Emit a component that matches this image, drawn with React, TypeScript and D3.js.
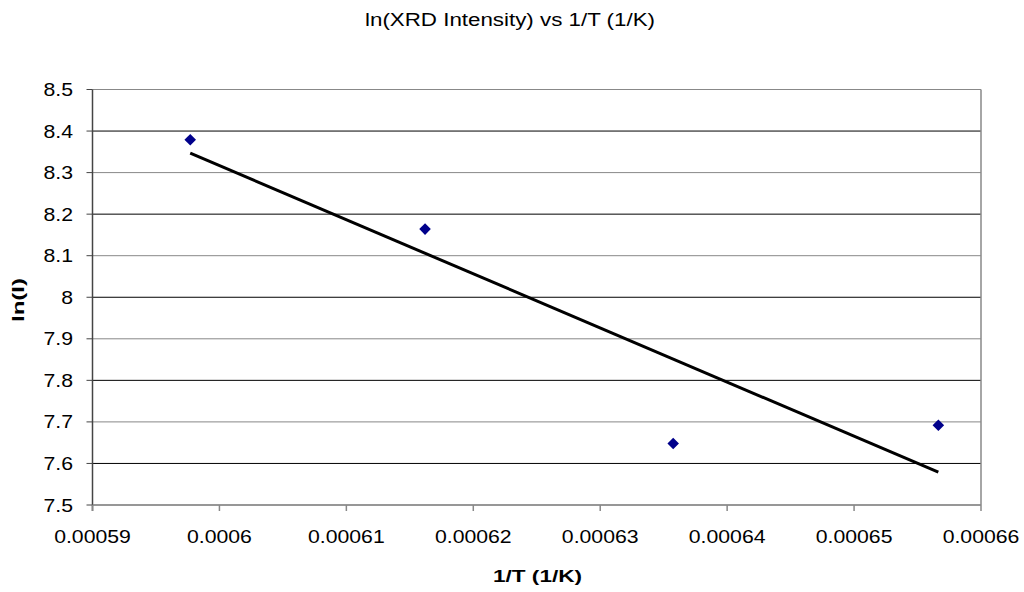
import React from "react";
import * as d3 from "d3";

const invT = [0.0005977, 0.0006162, 0.00063575, 0.00065664];
const lnI = [8.379, 8.164, 7.648, 7.692];
const xTicks = [0.00059, 0.0006, 0.00061, 0.00062, 0.00063, 0.00064, 0.00065, 0.00066];
const xTickLabels = ["0.00059", "0.0006", "0.00061", "0.00062", "0.00063", "0.00064", "0.00065", "0.00066"];
const yTicks = [7.5, 7.6, 7.7, 7.8, 7.9, 8, 8.1, 8.2, 8.3, 8.4, 8.5];
const yTickLabels = ["7.5", "7.6", "7.7", "7.8", "7.9", "8", "8.1", "8.2", "8.3", "8.4", "8.5"];

const W = 1024, H = 592;
const L = 92.5, R = 981, T = 89.5, B = 505;
const font = "'Liberation Sans', Arial, sans-serif";
const SX = 1.18;

export default function App() {
  const x = d3.scaleLinear().domain([0.00059, 0.00066]).range([L, R]);
  const y = d3.scaleLinear().domain([7.5, 8.5]).range([B, T]);

  const mx = d3.mean(invT)!;
  const my = d3.mean(lnI)!;
  let sxy = 0, sxx = 0;
  invT.forEach((v, i) => { sxy += (v - mx) * (lnI[i] - my); sxx += (v - mx) * (v - mx); });
  const slope = sxy / sxx;
  const icpt = my - slope * mx;
  const x0 = d3.min(invT)!, x1 = d3.max(invT)!;
  const line = d3.line<[number, number]>().x(d => x(d[0])).y(d => y(d[1]));
  const trend = line([[x0, icpt + slope * x0], [x1, icpt + slope * x1]]);

  const diamond = d3.symbol().type(d3.symbolDiamond2).size(85)();

  return (
    <svg width={W} height={H} style={{ position: "absolute", left: 0, top: 0, background: "#fff" }} fontFamily={font}>
      <rect x={0} y={0} width={W} height={H} fill="#fff" />
      <text x={365} y={26} fontSize={18} textLength={290} lengthAdjust="spacingAndGlyphs">ln(XRD Intensity) vs 1/T (1/K)</text>
      {yTicks.map((t, i) => (
        <line key={"g" + i} x1={L} x2={R} y1={y(t)} y2={y(t)} stroke={i % 2 === 0 ? "#888" : "#000"} strokeWidth={1} />
      ))}
      <line x1={R} x2={R} y1={T} y2={B} stroke="#888" strokeWidth={1.5} />
      <line x1={L} x2={L} y1={T} y2={B + 6} stroke="#444" strokeWidth={1.5} />
      <line x1={L} x2={R} y1={B} y2={B} stroke="#888" strokeWidth={1.5} />
      {yTicks.map((t, i) => (
        <g key={"y" + i}>
          <line x1={L - 6} x2={L} y1={y(t)} y2={y(t)} stroke="#444" />
          <text transform={`translate(73,${y(t) + 6.5}) scale(${SX},1)`} textAnchor="end" fontSize={18}>{yTickLabels[i]}</text>
        </g>
      ))}
      {xTicks.map((t, i) => (
        <g key={"x" + i}>
          <line x1={x(t)} x2={x(t)} y1={B} y2={B + 6} stroke="#888" strokeWidth={1.5} />
          <text transform={`translate(${x(t)},543) scale(${SX},1)`} textAnchor="middle" fontSize={18}>{xTickLabels[i]}</text>
        </g>
      ))}
      <path d={trend ?? ""} stroke="#000" strokeWidth={3} fill="none" />
      {invT.map((v, i) => (
        <path key={"p" + i} d={diamond ?? ""} transform={`translate(${x(v)},${y(lnI[i])})`} fill="#00008B" />
      ))}
      <text x={493} y={582} fontSize={17} fontWeight="bold" textLength={89} lengthAdjust="spacingAndGlyphs">1/T (1/K)</text>
      <text transform={`translate(24,322) rotate(-90)`} fontSize={16} fontWeight="bold" textLength={44} lengthAdjust="spacingAndGlyphs">ln(I)</text>
    </svg>
  );
}
